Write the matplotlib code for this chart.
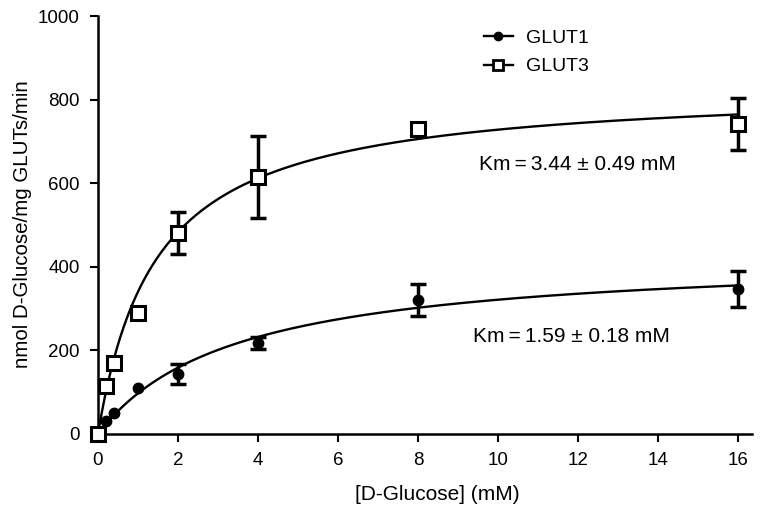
import numpy as np
import matplotlib
matplotlib.use("Agg")
import matplotlib.pyplot as plt

plt.rcParams['font.family'] = ['Liberation Sans', 'DejaVu Sans']

conc = [0, 0.2, 0.4, 1, 2, 4, 8, 16]
glut1 = [0, 31, 50, 110, 143, 218, 320, 347]
glut1_err = [0, 0, 0, 0, 24, 14, 38, 44]
glut3 = [0, 115, 170, 289, 481, 615, 730, 742]
glut3_err = [0, 0, 0, 0, 50, 97, 10, 62]

# Michaelis-Menten fit parameters (Vmax, Km) for the drawn curves
fit1 = (432, 3.44)
fit3 = (834, 1.45)

xticks = [0, 2, 4, 6, 8, 10, 12, 14, 16]
yticks = [0, 200, 400, 600, 800, 1000]

fig = plt.figure(figsize=(7.8, 5.05), dpi=100)
ax = fig.add_axes([0.1256, 0.1406, 0.8384, 0.8274])

xs = np.linspace(0, 16, 400)
for (vmax, km) in (fit1, fit3):
    ax.plot(xs, vmax * xs / (km + xs), color='black', lw=1.7, zorder=2)


def err_subset(x, y, e):
    idx = [i for i, v in enumerate(e) if v > 0]
    return [x[i] for i in idx], [y[i] for i in idx], [e[i] for i in idx]


for y, e in ((glut1, glut1_err), (glut3, glut3_err)):
    sx, sy, se = err_subset(conc, y, e)
    ax.errorbar(sx, sy, yerr=se, fmt='none', ecolor='black', elinewidth=2.5,
                capsize=6, capthick=2.5, zorder=3)

ax.plot(conc, glut1, 'o', color='black', ms=7.5, zorder=4, clip_on=False)
ax.plot(conc, glut3, 's', color='black', mfc='white', mec='black', mew=2.2,
        ms=9.5, zorder=5, clip_on=False)

h1, = ax.plot([], [], '-o', color='black', ms=6, lw=1.7)
h3, = ax.plot([], [], '-s', color='black', mfc='white', mew=2, ms=7.5, lw=1.7)
ax.legend([h1, h3], ['GLUT1', 'GLUT3'], loc='upper left',
          bbox_to_anchor=(0.563, 1.01), frameon=False, fontsize=14,
          handlelength=1.5, handletextpad=0.7, labelspacing=0.55)

ax.text(12.0, 645, 'Km\u2009=\u20093.44 \u00b1 0.49 mM', fontsize=15,
        ha='center', va='center')
ax.text(11.85, 233, 'Km\u2009=\u20091.59 \u00b1 0.18 mM', fontsize=15,
        ha='center', va='center')

ax.set_xlim(0, 16.35)
ax.set_ylim(0, 1000)
ax.set_xticks(xticks)
ax.set_yticks(yticks)
ax.tick_params(direction='out', length=6, width=1.5, labelsize=13.5, pad=7)
for s in ('top', 'right'):
    ax.spines[s].set_visible(False)
for s in ('left', 'bottom'):
    ax.spines[s].set_linewidth(1.8)

fig.text(437.5 / 780, 1 - 494 / 505, '[D-Glucose] (mM)', fontsize=15,
         ha='center', va='center')
fig.text(23 / 780, 1 - 224 / 505, 'nmol D-Glucose/mg GLUTs/min', fontsize=14.8,
         ha='center', va='center', rotation=90)

fig.savefig('out.png', dpi=100)
